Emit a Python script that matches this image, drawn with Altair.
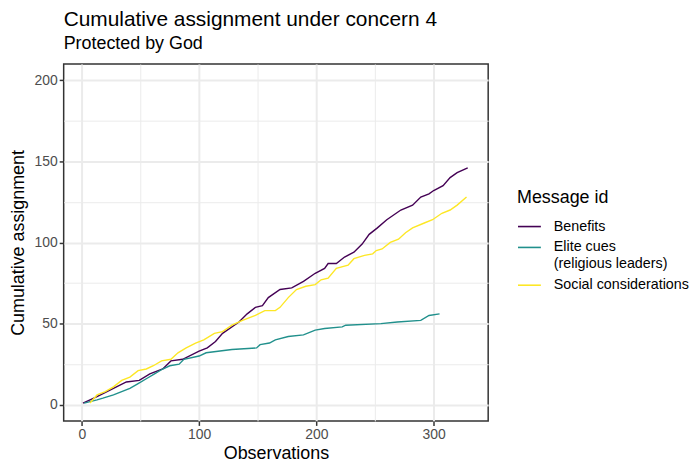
import altair as alt
import pandas as pd

# Benefits
ben_x = [1, 13, 27, 38, 49, 58, 69, 76, 86, 100, 107, 114, 120, 134, 141, 148, 154, 159, 169, 179,
         189, 199, 207, 210, 217, 224, 232, 239, 245, 252, 260, 272, 282, 289, 296, 300, 308, 314, 320, 329]
ben_y = [1, 5, 10, 14, 15, 19, 22, 27, 28, 33, 35, 39, 44, 51, 56, 60, 61, 66, 71, 72,
         76, 81, 84, 87, 87, 91, 94, 99, 105, 109, 114, 120, 123, 128, 130, 132, 135, 140, 143, 146]

# Elite cues (religious leaders)
eli_x = [2, 13, 18, 27, 34, 41, 48, 55, 62, 69, 75, 83, 87, 100, 106, 128, 149, 152, 160, 165,
         176, 189, 199, 207, 222, 225, 255, 269, 289, 296, 305]
eli_y = [1, 3, 4, 6, 8, 10, 13, 16, 19, 22, 24, 25, 28, 30, 32, 34, 35, 37, 38, 40,
         42, 43, 46, 47, 48, 49, 50, 51, 52, 55, 56]

# Social considerations
soc_x = [7, 13, 20, 27, 34, 41, 48, 55, 61, 68, 76, 82, 89, 97, 104, 113, 120, 128, 137, 148,
         156, 165, 169, 176, 183, 191, 199, 204, 210, 217, 227, 232, 241, 248, 251, 256, 263, 270,
         276, 282, 292, 299, 307, 314, 320, 328]
soc_y = [1, 6, 8, 11, 15, 17, 21, 22, 24, 27, 28, 32, 35, 38, 40, 44, 45, 49, 52, 55,
         58, 58, 60, 66, 71, 73, 74, 77, 78, 84, 86, 90, 92, 93, 95, 96, 100, 102,
         106, 109, 112, 114, 118, 120, 123, 128]

series_names = ["Benefits", "Elite cues\n(religious leaders)", "Social considerations"]
series_colors = ["#440154", "#21908C", "#FDE725"]

rows = []
for name, xs, ys in zip(series_names, [ben_x, eli_x, soc_x], [ben_y, eli_y, soc_y]):
    for i, (x, y) in enumerate(zip(xs, ys)):
        rows.append({"obs": x, "cum": y, "msg": name, "order": i})
df = pd.DataFrame(rows)

FONT = "Liberation Sans"

x_axis = alt.Axis(
    values=[0, 50, 100, 150, 200, 250, 300],
    labelExpr="datum.value % 100 == 0 ? datum.label : ''",
    title="Observations",
    gridWidth={"condition": {"test": "datum.value % 100 == 0", "value": 2}, "value": 1},
    tickOpacity={"condition": {"test": "datum.value % 100 == 0", "value": 1}, "value": 0},
)
y_axis = alt.Axis(
    values=[0, 25, 50, 75, 100, 125, 150, 175, 200],
    labelExpr="datum.value % 50 == 0 ? datum.label : ''",
    title="Cumulative assignment",
    gridWidth={"condition": {"test": "datum.value % 50 == 0", "value": 2}, "value": 1},
    tickOpacity={"condition": {"test": "datum.value % 50 == 0", "value": 1}, "value": 0},
)

chart = alt.Chart(df).mark_line(strokeWidth=1.4).encode(
    x=alt.X("obs:Q", scale=alt.Scale(domain=[-15.45, 346.45], nice=False, zero=False), axis=x_axis),
    y=alt.Y("cum:Q", scale=alt.Scale(domain=[-10, 210], nice=False, zero=False), axis=y_axis),
    color=alt.Color(
        "msg:N",
        scale=alt.Scale(domain=series_names, range=series_colors),
        legend=alt.Legend(
            title="Message id",
            orient="none",
            legendX=456,
            legendY=126,
            symbolType="stroke",
            symbolSize=529,
            symbolStrokeWidth=1.6,
            labelExpr="split(datum.label, '\\n')",
            titleFontSize=18,
            titleFontWeight="normal",
            titleColor="black",
            titlePadding=7,
            labelFontSize=14.4,
            labelColor="black",
            labelLimit=300,
            rowPadding=2,
            labelOffset=12,
        ),
    ),
    order="order:Q",
).properties(
    width=427,
    height=359,
    title=alt.TitleParams(
        text="Cumulative assignment under concern 4",
        subtitle="Protected by God",
        anchor="start",
        frame="group",
        fontSize=21,
        fontWeight="normal",
        color="black",
        subtitleFontSize=18,
        subtitleColor="black",
        subtitlePadding=5,
        offset=11,
    ),
    padding={"left": 1, "top": 0, "right": 0, "bottom": 0},
).configure(
    font=FONT,
).configure_view(
    stroke="#333333",
    strokeWidth=1.5,
).configure_axis(
    domain=False,
    gridColor="#EBEBEB",
    tickColor="#333333",
    tickSize=4.5,
    tickWidth=1.5,
    labelFontSize=14,
    labelColor="#4D4D4D",
    labelPadding=2,
    titleFontSize=18,
    titleFontWeight="normal",
    titleColor="black",
).configure_axisX(
    titlePadding=3,
).configure_axisY(
    titlePadding=7,
)

chart.save("out.html", embed_options={"renderer": "svg", "actions": False})
